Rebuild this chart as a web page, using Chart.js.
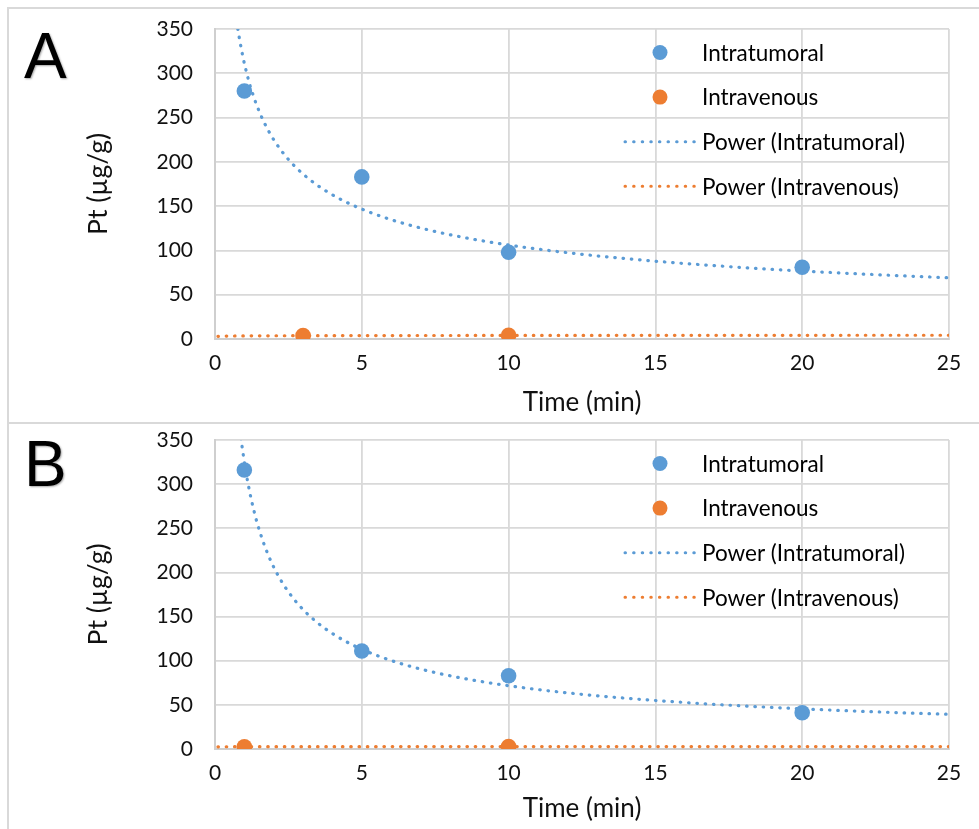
<!DOCTYPE html>
<html>
<head>
<meta charset="utf-8">
<script src="https://cdn.jsdelivr.net/npm/chart.js@4.4.1/dist/chart.umd.min.js"></script>
<style>
html, body { margin: 0; padding: 0; background: #fff; width: 979px; height: 829px; overflow: hidden; }
#frame { position: absolute; left: 7px; top: 7px; width: 1000px; height: 900px; border-left: 2px solid #d9d9d9; border-top: 2px solid #d9d9d9; }
#sep { position: absolute; left: 7px; top: 422px; width: 1000px; height: 2px; background: #d9d9d9; }
.box { position: absolute; left: 0; width: 979px; }
#boxA { top: 0; height: 423px; }
#boxB { top: 423px; height: 406px; }
.letter { position: absolute; left: 24px; font-family: "Liberation Sans"; font-size: 64px; line-height: 64px; color: #000; text-shadow: 1px 1px 2px rgba(0,0,0,0.35); }
</style>
</head>
<body>
<div id="frame"></div>
<div id="sep"></div>
<div class="box" id="boxA"><canvas id="chartA"></canvas></div>
<div class="box" id="boxB"><canvas id="chartB"></canvas></div>
<div class="letter" style="top:24px">A</div>
<div class="letter" style="top:432px">B</div>
<script>
/* Axis ticks. */
const xTicks = [0, 5, 10, 15, 20, 25];
const yTicks = [0, 50, 100, 150, 200, 250, 300, 350];

/* Panel A values. */
const timeA_IT = [1, 5, 10, 20];
const ptA_IT = [280, 183, 98, 81];
const timeA_IV = [3, 10];
const ptA_IV = [3.8, 4.1];
/* Power trendlines y = a * x^b, a and b. */
const powerA_IT = [311, -0.467];
const powerA_IV = [3.5, 0.06];

/* Panel B values. */
const timeB_IT = [1, 5, 10, 20];
const ptB_IT = [316, 111, 83, 41];
const timeB_IV = [1, 10];
const ptB_IV = [2.6, 2.8];
const powerB_IT = [324.6, -0.656];
const powerB_IV = [2.6, 0.02];

const legendLabels = ["Intratumoral", "Intravenous", "Power (Intratumoral)", "Power (Intravenous)"];

const BLUE = "#5B9BD5";
const ORANGE = "#ED7D31";
const FONT = "Lato";

/* Sample a power curve across the x axis. */
function powerCurve(coef)
{
	const pts = [];
	for (let i = 1; i <= 250; i++)
	{
		const x = i / 10;
		pts.push({x: x, y: coef[0] * Math.pow(x, coef[1])});
	}
	return pts;
}

function toPoints(xs, ys)
{
	return xs.map((x, i) => ({x: x, y: ys[i]}));
}

/* Legend drawn inside the plot area, like the original. */
const insideLegend = {
	id: "insideLegend",
	afterDatasetsDraw(chart)
	{
		const ctx = chart.ctx;
		const area = chart.chartArea;
		const colors = [BLUE, ORANGE, BLUE, ORANGE];
		ctx.save();
		ctx.font = "22.5px " + FONT;
		ctx.textBaseline = "middle";
		legendLabels.forEach((label, i) =>
		{
			const y = area.top + 23.5 + i * 44.6;
			if (i < 2)
			{
				ctx.beginPath();
				ctx.fillStyle = colors[i];
				ctx.arc(area.right - 289, y, 7.5, 0, 2 * Math.PI);
				ctx.fill();
			}
			else
			{
				ctx.beginPath();
				ctx.strokeStyle = colors[i];
				ctx.lineWidth = 3;
				ctx.lineCap = "round";
				ctx.setLineDash([0.5, 8.1]);
				ctx.moveTo(area.right - 324, y);
				ctx.lineTo(area.right - 254, y);
				ctx.stroke();
				ctx.setLineDash([]);
			}
			ctx.fillStyle = "#000";
			ctx.fillText(label, area.right - 247, y + 1);
		});
		ctx.restore();
	},
};

function makeChart(id, it, iv, trendIt, trendIv, padTop, axisH)
{
	return new Chart(
		document.getElementById(id),
		{
			type: "scatter",
			data:
			{
				datasets:
				[
					{
						label: legendLabels[0],
						data: it,
						backgroundColor: BLUE,
						borderWidth: 0,
						pointRadius: 7.8,
					},
					{
						label: legendLabels[1],
						data: iv,
						backgroundColor: ORANGE,
						borderWidth: 0,
						pointRadius: 7.8,
					},
					{
						label: legendLabels[2],
						data: trendIt,
						showLine: true,
						pointRadius: 0,
						borderColor: BLUE,
						borderWidth: 3.2,
						borderDash: [0.5, 7.8],
						borderCapStyle: "round",
					},
					{
						label: legendLabels[3],
						data: trendIv,
						showLine: true,
						pointRadius: 0,
						borderColor: ORANGE,
						borderWidth: 3.2,
						borderDash: [0.5, 7.8],
						borderCapStyle: "round",
					},
				],
			},
			options:
			{
				responsive: true,
				maintainAspectRatio: false,
				animation: false,
				events: [],
				layout: { padding: { left: 15, right: 30, top: padTop, bottom: 4 } },
				plugins:
				{
					legend: { display: false },
					tooltip: { enabled: false },
				},
				scales:
				{
					x:
					{
						min: 0,
						max: 25,
						afterBuildTicks: (s) => { s.ticks = xTicks.map((v) => ({value: v})); },
						afterFit: (s) => { s.height = axisH; },
						grid: { color: "#d9d9d9", lineWidth: 1.8, drawTicks: true, tickLength: 12, tickColor: "rgba(0,0,0,0)" },
						border: { color: "#cfcfcf", width: 2 },
						ticks: { color: "#111", padding: 0, maxRotation: 0, font: { family: FONT, size: 21 } },
						title:
						{
							display: true,
							text: "Time (min)",
							color: "#111",
							padding: { top: 0, bottom: 1 },
							font: { family: FONT, size: 26 },
						},
					},
					y:
					{
						min: 0,
						max: 350,
						afterBuildTicks: (s) => { s.ticks = yTicks.map((v) => ({value: v})); },
						afterFit: (s) => { s.width = 200; },
						grid: { color: "#d9d9d9", lineWidth: 1.8, drawTicks: true, tickLength: 22, tickColor: "rgba(0,0,0,0)" },
						border: { color: "#cfcfcf", width: 2 },
						ticks: { color: "#111", padding: 0, font: { family: FONT, size: 21 } },
						title:
						{
							display: true,
							text: "Pt (µg/g)",
							color: "#111",
							padding: { top: 68, bottom: 0 },
							font: { family: FONT, size: 26.5 },
						},
					},
				},
			},
			plugins: [insideLegend],
		}
	);
}

makeChart("chartA",
	toPoints(timeA_IT, ptA_IT), toPoints(timeA_IV, ptA_IV),
	powerCurve(powerA_IT), powerCurve(powerA_IV), 29, 80);

makeChart("chartB",
	toPoints(timeB_IT, ptB_IT), toPoints(timeB_IV, ptB_IV),
	powerCurve(powerB_IT), powerCurve(powerB_IV), 17, 76);
</script>
</body>
</html>
